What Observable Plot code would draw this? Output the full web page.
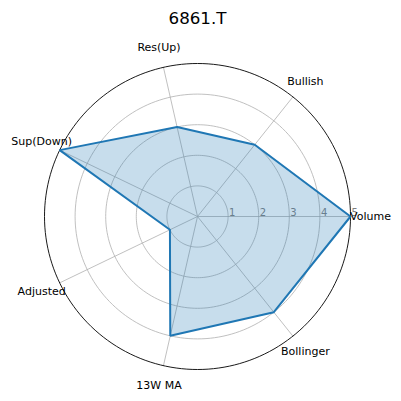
<!DOCTYPE html>
<html><head><meta charset="utf-8">
<script src="https://cdn.jsdelivr.net/npm/d3@7"></script>
<script src="https://cdn.jsdelivr.net/npm/@observablehq/plot@0.6"></script>
<style>body{margin:0;background:#fff} #chart svg{font-family:"DejaVu Sans",sans-serif;background:#fff}</style>
</head><body><div id="chart"></div>
<script>
const title = "6861.T";
const categories = ["Volume","Bullish","Res(Up)","Sup(Down)","Adjusted","13W MA","Bollinger"];
const values = [5,3,3,5,1,4,4];
const ringValues = [1,2,3,4];
const rMax = 5;
const tickLabels = ["1","2","3","4","5"];

const n = categories.length;
const ang = i => i * 2 * Math.PI / n;
const pts = values.map((v,i) => ({cat: categories[i], x: v*Math.cos(ang(i)), y: v*Math.sin(ang(i))}));
const poly = pts.concat([pts[0]]);
const circle = r => d3.range(0, 361, 2).map(a => ({r, x: r*Math.cos(a*Math.PI/180), y: r*Math.sin(a*Math.PI/180)}));
const rings = ringValues.flatMap(circle);
const outer = circle(rMax);
const spokes = categories.flatMap((c,i) => [{c, x:0, y:0}, {c, x: rMax*Math.cos(ang(i)), y: rMax*Math.sin(ang(i))}]);
const labelR = rMax + 20/30.6;
const labels = categories.map((c,i) => ({c, x: labelR*Math.cos(ang(i)), y: labelR*Math.sin(ang(i))}));
const ticks = tickLabels.map((t,i) => ({t, x: i+1, y: 0}));

const chart = Plot.plot({
  width: 401, height: 401, margin: 0,
  x: {domain: [-197/30.6, 204/30.6], axis: null},
  y: {domain: [-185/30.6, 216/30.6], axis: null},
  marks: [
    Plot.line(rings, {x:"x", y:"y", z:"r", stroke:"#b0b0b0", strokeWidth:0.8}),
    Plot.line(spokes, {x:"x", y:"y", z:"c", stroke:"#b0b0b0", strokeWidth:0.8}),
    Plot.text(ticks, {x:"x", y:"y", text:"t", textAnchor:"start", lineAnchor:"bottom", dx:1, dy:-1, fill:"#808080", fontSize:10}),
    Plot.area(poly, {x1:"x", y1:"y", x2:0, y2:0, fill:"none"}),
    Plot.line(poly, {x:"x", y:"y", fill:"#1f77b4", fillOpacity:0.25, stroke:"none"}),
    Plot.line(outer, {x:"x", y:"y", stroke:"#000", strokeWidth:0.9}),
    Plot.line(poly, {x:"x", y:"y", stroke:"#1f77b4", strokeWidth:2, strokeLinejoin:"miter"}),
    Plot.text(labels, {x:"x", y:"y", text:"c", fontSize:11, fill:"#000"}),
    Plot.text([title], {x: () => 0, frameAnchor:"top", dy:18, lineAnchor:"middle", fontSize:16.7, fill:"#000"})
  ]
});
document.getElementById("chart").appendChild(chart);
</script></body></html>
